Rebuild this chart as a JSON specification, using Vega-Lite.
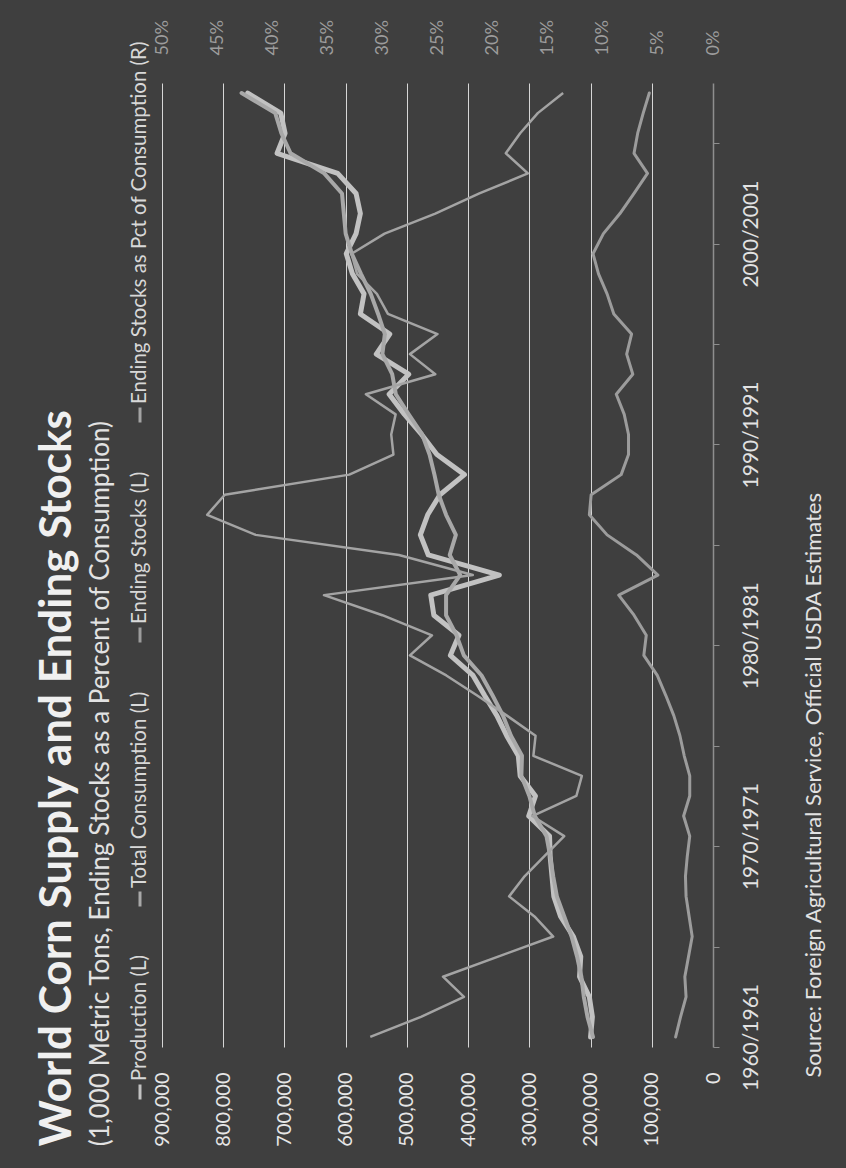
{
  "$schema": "https://vega.github.io/schema/vega-lite/v6.json",
  "width": 551,
  "height": 964,
  "autosize": {"type": "none"},
  "padding": {"left": 162, "top": 83, "right": 133, "bottom": 121},
  "background": "#3f3f3f",
  "config": {
    "view": {"stroke": null},
    "font": "Lato",
    "axis": {"labelFont": "Lato", "titleFont": "Lato"},
    "legend": {"labelFont": "Lato"}
  },
  "title": {
    "text": "World Corn Supply and Ending Stocks",
    "subtitle": "(1,000 Metric Tons, Ending Stocks as a Percent of Consumption)",
    "orient": "left",
    "anchor": "start",
    "frame": "bounds",
    "offset": 16,
    "font": "Lato",
    "fontSize": 44,
    "fontWeight": "bold",
    "color": "#f0f0f0",
    "subtitleFont": "Lato",
    "subtitleFontSize": 26,
    "subtitleColor": "#e2e2e2",
    "subtitlePadding": 8
  },
  "data": {
    "values": [
      {"year": 1960, "production": 200000, "consumption": 196000, "stocks": 61000, "pct": 31.1},
      {"year": 1961, "production": 197000, "consumption": 205000, "stocks": 53000, "pct": 26.5},
      {"year": 1962, "production": 202000, "consumption": 211000, "stocks": 44000, "pct": 22.6},
      {"year": 1963, "production": 218000, "consumption": 215000, "stocks": 46000, "pct": 24.5},
      {"year": 1964, "production": 216000, "consumption": 222000, "stocks": 40000, "pct": 19.5},
      {"year": 1965, "production": 228000, "consumption": 231000, "stocks": 34000, "pct": 14.5},
      {"year": 1966, "production": 249000, "consumption": 243000, "stocks": 39000, "pct": 16.2},
      {"year": 1967, "production": 260000, "consumption": 255000, "stocks": 44000, "pct": 18.5},
      {"year": 1968, "production": 263000, "consumption": 261000, "stocks": 45000, "pct": 17.1},
      {"year": 1969, "production": 266000, "consumption": 266000, "stocks": 42000, "pct": 15.3},
      {"year": 1970, "production": 267000, "consumption": 272000, "stocks": 38000, "pct": 13.5},
      {"year": 1971, "production": 301000, "consumption": 291000, "stocks": 48000, "pct": 16.4},
      {"year": 1972, "production": 290000, "consumption": 300000, "stocks": 38000, "pct": 12.4},
      {"year": 1973, "production": 315000, "consumption": 313000, "stocks": 38000, "pct": 11.9},
      {"year": 1974, "production": 318000, "consumption": 312000, "stocks": 47000, "pct": 16.3},
      {"year": 1975, "production": 337000, "consumption": 330000, "stocks": 54000, "pct": 16.1},
      {"year": 1976, "production": 353000, "consumption": 343000, "stocks": 64000, "pct": 18.7},
      {"year": 1977, "production": 373000, "consumption": 360000, "stocks": 77000, "pct": 21.4},
      {"year": 1978, "production": 392000, "consumption": 378000, "stocks": 91000, "pct": 24.2},
      {"year": 1979, "production": 429000, "consumption": 407000, "stocks": 113000, "pct": 27.5},
      {"year": 1980, "production": 415000, "consumption": 419000, "stocks": 109000, "pct": 25.5},
      {"year": 1981, "production": 456000, "consumption": 436000, "stocks": 129000, "pct": 30.0},
      {"year": 1982, "production": 461000, "consumption": 436000, "stocks": 154000, "pct": 35.3},
      {"year": 1983, "production": 349000, "consumption": 413000, "stocks": 90000, "pct": 21.8},
      {"year": 1984, "production": 465000, "consumption": 430000, "stocks": 125000, "pct": 28.5},
      {"year": 1985, "production": 478000, "consumption": 420000, "stocks": 173000, "pct": 41.5},
      {"year": 1986, "production": 466000, "consumption": 436000, "stocks": 202000, "pct": 45.9},
      {"year": 1987, "production": 446000, "consumption": 448000, "stocks": 199000, "pct": 44.3},
      {"year": 1988, "production": 406000, "consumption": 455000, "stocks": 150000, "pct": 33.0},
      {"year": 1989, "production": 451000, "consumption": 463000, "stocks": 138000, "pct": 29.0},
      {"year": 1990, "production": 476000, "consumption": 475000, "stocks": 138000, "pct": 29.2},
      {"year": 1991, "production": 504000, "consumption": 497000, "stocks": 145000, "pct": 28.8},
      {"year": 1992, "production": 529000, "consumption": 518000, "stocks": 158000, "pct": 31.5},
      {"year": 1993, "production": 497000, "consumption": 524000, "stocks": 131000, "pct": 25.2},
      {"year": 1994, "production": 550000, "consumption": 540000, "stocks": 141000, "pct": 27.5},
      {"year": 1995, "production": 528000, "consumption": 536000, "stocks": 133000, "pct": 25.0},
      {"year": 1996, "production": 576000, "consumption": 547000, "stocks": 162000, "pct": 29.5},
      {"year": 1997, "production": 570000, "consumption": 559000, "stocks": 173000, "pct": 30.5},
      {"year": 1998, "production": 589000, "consumption": 575000, "stocks": 187000, "pct": 32.3},
      {"year": 1999, "production": 599000, "consumption": 590000, "stocks": 196000, "pct": 32.8},
      {"year": 2000, "production": 583000, "consumption": 600000, "stocks": 179000, "pct": 29.8},
      {"year": 2001, "production": 576000, "consumption": 603000, "stocks": 152000, "pct": 25.2},
      {"year": 2002, "production": 583000, "consumption": 606000, "stocks": 129000, "pct": 21.2},
      {"year": 2003, "production": 613000, "consumption": 635000, "stocks": 107000, "pct": 16.8},
      {"year": 2004, "production": 712000, "consumption": 690000, "stocks": 129000, "pct": 18.8},
      {"year": 2005, "production": 699000, "consumption": 705000, "stocks": 123000, "pct": 17.5},
      {"year": 2006, "production": 706000, "consumption": 715000, "stocks": 114000, "pct": 15.9},
      {"year": 2007, "production": 760000, "consumption": 770000, "stocks": 104000, "pct": 13.6}
    ]
  },
  "encoding": {
    "y": {
      "field": "year",
      "type": "quantitative",
      "scale": {"domain": [1959.5, 2007.5], "nice": false, "zero": false},
      "axis": {
        "orient": "right",
        "values": [1960, 1965, 1970, 1975, 1980, 1985, 1990, 1995, 2000, 2005],
        "labelExpr": "datum.value % 10 === 0 ? datum.value + '/' + (datum.value + 1) : ''",
        "tickOffset": 10,
        "labelOffset": -10,
        "tickSize": 6,
        "tickColor": "#8e8e8e",
        "domainColor": "#8e8e8e",
        "domainWidth": 1.5,
        "grid": false,
        "labelAngle": 270,
        "labelAlign": "center",
        "labelBaseline": "top",
        "labelPadding": 21,
        "labelFontSize": 21,
        "labelColor": "#e2e2e2",
        "labelOverlap": false,
        "labelBound": false,
        "title": "Source:  Foreign Agricultural Service, Official USDA Estimates",
        "titleAngle": 270,
        "titleAlign": "left",
        "titleBaseline": "top",
        "titleY": 994,
        "titlePadding": 42,
        "titleFontSize": 22,
        "titleFontWeight": "normal",
        "titleColor": "#e2e2e2"
      }
    },
    "order": {"field": "year", "type": "quantitative"}
  },
  "layer": [
    {
      "transform": [
        {"fold": ["production", "consumption", "stocks"], "as": ["series", "value"]}
      ],
      "mark": {"type": "line", "strokeJoin": "round", "strokeCap": "round"},
      "encoding": {
        "x": {
          "field": "value",
          "type": "quantitative",
          "scale": {"domain": [0, 900000], "reverse": true, "nice": false, "zero": true},
          "axis": {
            "orient": "bottom",
            "values": [0, 100000, 200000, 300000, 400000, 500000, 600000, 700000, 800000, 900000],
            "format": ",.0f",
            "labelAngle": 270,
            "labelAlign": "right",
            "labelBaseline": "middle",
            "labelPadding": 25,
            "labelFontSize": 20,
            "labelColor": "#e6e6e6",
            "ticks": false,
            "tickSize": 0,
            "domain": false,
            "grid": true,
            "gridColor": {"condition": {"test": "datum.value === 0", "value": "#3f3f3f"}, "value": "#d6d6d6"},
            "gridWidth": 1,
            "title": null
          }
        },
        "color": {
          "field": "series",
          "type": "nominal",
          "scale": {
            "domain": ["pct", "stocks", "consumption", "production"],
            "range": ["#a4a4a4", "#9c9c9c", "#a8a8a8", "#c2c2c2"]
          },
          "legend": {
            "orient": "none",
            "legendX": -32,
            "legendY": 332,
            "direction": "vertical",
            "title": null,
            "padding": 0,
            "symbolType": "stroke",
            "symbolSize": 225,
            "symbolStrokeWidth": 3,
            "labelFontSize": 20.5,
            "labelColor": "#d8d8d8",
            "labelLimit": 0,
            "rowPadding": 42,
            "labelExpr": "{'production': 'Production (L)', 'consumption': 'Total Consumption (L)', 'stocks': 'Ending Stocks (L)', 'pct': 'Ending Stocks as Pct of Consumption (R)'}[datum.label]",
            "encoding": {
              "symbols": {"angle": {"value": 90}, "x": {"value": 10}, "y": {"value": 0}},
              "labels": {
                "angle": {"value": -90},
                "align": {"value": "left"},
                "baseline": {"value": "middle"},
                "x": {"value": 10},
                "y": {"value": -11}
              }
            }
          }
        },
        "strokeWidth": {
          "field": "series",
          "type": "nominal",
          "scale": {"domain": ["stocks", "consumption", "production"], "range": [3, 5, 4.5]},
          "legend": null
        }
      }
    },
    {
      "mark": {"type": "line", "strokeWidth": 2.5, "strokeJoin": "round"},
      "encoding": {
        "x": {
          "field": "pct",
          "type": "quantitative",
          "scale": {"domain": [0, 50], "reverse": true, "nice": false},
          "axis": {
            "orient": "top",
            "values": [0, 5, 10, 15, 20, 25, 30, 35, 40, 45, 50],
            "labelExpr": "datum.value + '%'",
            "labelAngle": 270,
            "labelAlign": "left",
            "labelBaseline": "middle",
            "labelPadding": 28,
            "labelFontSize": 18,
            "labelColor": "#9c9c9c",
            "ticks": false,
            "tickSize": 0,
            "domain": false,
            "grid": false,
            "title": null
          }
        },
        "color": {"datum": "pct", "type": "nominal"}
      }
    }
  ],
  "resolve": {"scale": {"x": "independent"}}
}
